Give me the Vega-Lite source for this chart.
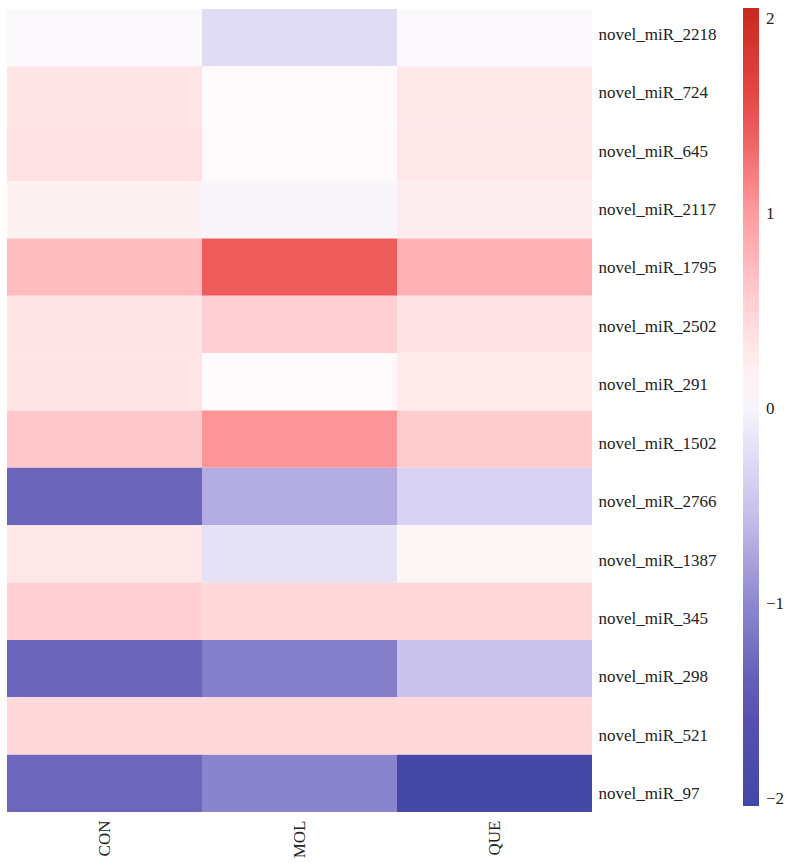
{
  "$schema": "https://vega.github.io/schema/vega-lite/v6.json",
  "width": 585,
  "height": 803,
  "padding": {"left": 7, "top": 8, "right": 0, "bottom": 0},
  "background": "white",
  "config": {
    "view": {"stroke": null},
    "font": "Liberation Serif, Times New Roman, serif"
  },
  "data": {
    "values": [
      {"mirna": "novel_miR_2218", "group": "CON", "value": 0.05},
      {"mirna": "novel_miR_2218", "group": "MOL", "value": -0.26},
      {"mirna": "novel_miR_2218", "group": "QUE", "value": 0.05},
      {"mirna": "novel_miR_724", "group": "CON", "value": 0.34},
      {"mirna": "novel_miR_724", "group": "MOL", "value": 0.1},
      {"mirna": "novel_miR_724", "group": "QUE", "value": 0.3},
      {"mirna": "novel_miR_645", "group": "CON", "value": 0.36},
      {"mirna": "novel_miR_645", "group": "MOL", "value": 0.1},
      {"mirna": "novel_miR_645", "group": "QUE", "value": 0.3},
      {"mirna": "novel_miR_2117", "group": "CON", "value": 0.2},
      {"mirna": "novel_miR_2117", "group": "MOL", "value": 0.01},
      {"mirna": "novel_miR_2117", "group": "QUE", "value": 0.24},
      {"mirna": "novel_miR_1795", "group": "CON", "value": 0.72},
      {"mirna": "novel_miR_1795", "group": "MOL", "value": 1.43},
      {"mirna": "novel_miR_1795", "group": "QUE", "value": 0.82},
      {"mirna": "novel_miR_2502", "group": "CON", "value": 0.34},
      {"mirna": "novel_miR_2502", "group": "MOL", "value": 0.54},
      {"mirna": "novel_miR_2502", "group": "QUE", "value": 0.36},
      {"mirna": "novel_miR_291", "group": "CON", "value": 0.34},
      {"mirna": "novel_miR_291", "group": "MOL", "value": 0.1},
      {"mirna": "novel_miR_291", "group": "QUE", "value": 0.28},
      {"mirna": "novel_miR_1502", "group": "CON", "value": 0.61},
      {"mirna": "novel_miR_1502", "group": "MOL", "value": 1.05},
      {"mirna": "novel_miR_1502", "group": "QUE", "value": 0.58},
      {"mirna": "novel_miR_2766", "group": "CON", "value": -1.33},
      {"mirna": "novel_miR_2766", "group": "MOL", "value": -0.7},
      {"mirna": "novel_miR_2766", "group": "QUE", "value": -0.35},
      {"mirna": "novel_miR_1387", "group": "CON", "value": 0.32},
      {"mirna": "novel_miR_1387", "group": "MOL", "value": -0.19},
      {"mirna": "novel_miR_1387", "group": "QUE", "value": 0.16},
      {"mirna": "novel_miR_345", "group": "CON", "value": 0.54},
      {"mirna": "novel_miR_345", "group": "MOL", "value": 0.47},
      {"mirna": "novel_miR_345", "group": "QUE", "value": 0.47},
      {"mirna": "novel_miR_298", "group": "CON", "value": -1.33},
      {"mirna": "novel_miR_298", "group": "MOL", "value": -1.09},
      {"mirna": "novel_miR_298", "group": "QUE", "value": -0.52},
      {"mirna": "novel_miR_521", "group": "CON", "value": 0.47},
      {"mirna": "novel_miR_521", "group": "MOL", "value": 0.47},
      {"mirna": "novel_miR_521", "group": "QUE", "value": 0.47},
      {"mirna": "novel_miR_97", "group": "CON", "value": -1.32},
      {"mirna": "novel_miR_97", "group": "MOL", "value": -1.04},
      {"mirna": "novel_miR_97", "group": "QUE", "value": -2.0}
    ]
  },
  "layer": [
    {
      "mark": {"type": "rect", "strokeWidth": 0},
      "encoding": {
        "x": {
          "field": "group",
          "type": "nominal",
          "sort": ["CON", "MOL", "QUE"],
          "scale": {"paddingInner": 0, "paddingOuter": 0},
          "axis": {
            "title": null,
            "orient": "bottom",
            "labelAngle": 270,
            "ticks": false,
            "domain": false,
            "labelPadding": 8,
            "labelFontSize": 17,
            "labelColor": "#222222",
            "labelFont": "Liberation Serif, Times New Roman, serif"
          }
        },
        "y": {
          "field": "mirna",
          "type": "nominal",
          "sort": ["novel_miR_2218", "novel_miR_724", "novel_miR_645", "novel_miR_2117", "novel_miR_1795", "novel_miR_2502", "novel_miR_291", "novel_miR_1502", "novel_miR_2766", "novel_miR_1387", "novel_miR_345", "novel_miR_298", "novel_miR_521", "novel_miR_97"],
          "scale": {"paddingInner": 0, "paddingOuter": 0},
          "axis": null
        },
        "color": {
          "field": "value",
          "type": "quantitative",
          "scale": {
            "domain": [-2.036, -1.5, -1.0, -0.5, 0.08, 0.5, 1.0, 1.5, 2.056],
            "range": ["#4347a5", "#5a53b2", "#8e87cf", "#cbc5ee", "#fefcfd", "#ffd5d8", "#ff9c9f", "#ea5050", "#c8281e"],
            "interpolate": "rgb",
            "clamp": true
          },
          "legend": {
            "title": null,
            "orient": "none",
            "legendX": 736,
            "legendY": -1,
            "direction": "vertical",
            "gradientLength": 798,
            "gradientThickness": 16,
            "gradientStrokeWidth": 0,
            "values": [-2, -1, 0, 1, 2],
            "format": "d",
            "labelFontSize": 17,
            "labelOffset": 7,
            "labelColor": "#222222",
            "labelFont": "Liberation Serif, Times New Roman, serif",
            "labelOverlap": false
          }
        }
      }
    },
    {
      "mark": {"type": "text", "text": ""},
      "encoding": {
        "y": {
          "field": "mirna",
          "type": "nominal",
          "sort": ["novel_miR_2218", "novel_miR_724", "novel_miR_645", "novel_miR_2117", "novel_miR_1795", "novel_miR_2502", "novel_miR_291", "novel_miR_1502", "novel_miR_2766", "novel_miR_1387", "novel_miR_345", "novel_miR_298", "novel_miR_521", "novel_miR_97"],
          "scale": {"paddingInner": 0, "paddingOuter": 0, "range": [-4, 814]},
          "axis": {
            "title": null,
            "orient": "right",
            "ticks": false,
            "domain": false,
            "labelPadding": 6,
            "labelFontSize": 17,
            "labelColor": "#222222",
            "labelFont": "Liberation Serif, Times New Roman, serif"
          }
        }
      }
    }
  ],
  "resolve": {"scale": {"y": "independent"}, "axis": {"y": "independent"}}
}
